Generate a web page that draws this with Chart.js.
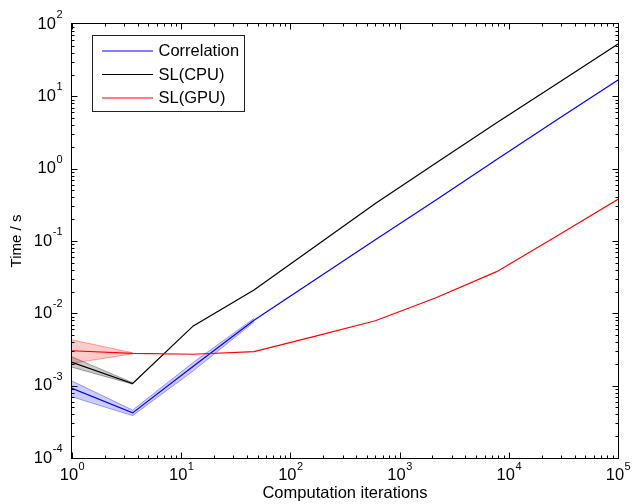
<!DOCTYPE html>
<html>
<head>
<meta charset="utf-8">
<script src="https://cdn.jsdelivr.net/npm/chart.js@4.4.0/dist/chart.umd.min.js"></script>
<style>
  html, body { margin: 0; padding: 0; background: #fff; }
  #chart { display: block; }
</style>
</head>
<body>
<canvas id="chart" width="633" height="504"></canvas>
<script>
// x positions (computation iterations)
const iterations = [1, 3.59, 12.9, 46.4, 166.8, 599.5, 2154, 7743, 27826, 100000];

// Correlation
const corrMean = [9.2e-4, 4.2e-4, 1.85e-3, 8.0e-3, 0.029, 0.104, 0.37, 1.34, 4.8, 16.8];
const corrLow  = [7.0e-4, 3.85e-4, 1.6e-3, 7.6e-3];
const corrHigh = [1.16e-3, 4.6e-4, 2.1e-3, 8.5e-3];

// SL(CPU)
const cpuMean = [2.1e-3, 1.07e-3, 6.7e-3, 0.021, 0.083, 0.33, 1.2, 4.3, 15, 53];
const cpuLow  = [1.8e-3, 1.05e-3];
const cpuHigh = [2.5e-3, 1.1e-3];

// SL(GPU)
const gpuMean = [3.04e-3, 2.8e-3, 2.72e-3, 2.95e-3, 4.8e-3, 7.9e-3, 0.0164, 0.0377, 0.118, 0.377];
const gpuLow  = [2.04e-3, 2.75e-3];
const gpuHigh = [4.3e-3, 2.85e-3];

// axis labels are 10^n
const xTickExps = [0, 1, 2, 3, 4, 5];
const yTickExps = [-4, -3, -2, -1, 0, 1, 2];

const FONT = '"Liberation Sans", Arial, Helvetica, sans-serif';

const pts = ys => ys.map((y, i) => ({ x: iterations[i], y }));

function band(ys, rgb, fill) {
  return {
    data: pts(ys),
    borderColor: `rgba(${rgb},0.35)`,
    backgroundColor: `rgba(${rgb},0.2)`,
    borderWidth: 1,
    pointRadius: 0,
    fill: fill,
    order: 10
  };
}

function line(label, ys, color, order) {
  return {
    label,
    data: pts(ys),
    borderColor: color,
    borderWidth: 1.2,
    pointRadius: 0,
    fill: false,
    order
  };
}

// frame, inward ticks, 10^n labels and the boxed legend
const axesPlugin = {
  id: 'axesPlugin',
  afterDraw(chart) {
    const { ctx, chartArea: a, scales: { x, y } } = chart;
    ctx.save();
    ctx.strokeStyle = '#000';
    ctx.lineWidth = 1;
    const L = Math.round(a.left) - 0.5, R = Math.round(a.right) + 0.5;
    const T = Math.round(a.top) - 0.5, B = Math.round(a.bottom) + 0.5;
    ctx.strokeRect(L, T, R - L, B - T);

    ctx.beginPath();
    for (let e = 0; e < 5; e++) {
      for (let m = 1; m <= 9; m++) {
        const px = Math.round(x.getPixelForValue(m * Math.pow(10, e))) + 0.5;
        const len = m === 1 ? 6 : 3;
        ctx.moveTo(px, B); ctx.lineTo(px, B - len);
        ctx.moveTo(px, T); ctx.lineTo(px, T + len);
      }
    }
    for (let e = -4; e < 2; e++) {
      for (let m = 1; m <= 9; m++) {
        const py = Math.round(y.getPixelForValue(m * Math.pow(10, e))) + 0.5;
        const len = m === 1 ? 6 : 3;
        ctx.moveTo(L, py); ctx.lineTo(L + len, py);
        ctx.moveTo(R, py); ctx.lineTo(R - len, py);
      }
    }
    ctx.stroke();

    ctx.fillStyle = '#000';
    ctx.textBaseline = 'middle';
    const base = `16.5px ${FONT}`, sup = `11px ${FONT}`;

    xTickExps.forEach(e => {
      const px = x.getPixelForValue(Math.pow(10, e));
      ctx.font = base; const w1 = ctx.measureText('10').width;
      ctx.font = sup; const w2 = ctx.measureText(String(e)).width;
      const x0 = px - (w1 + w2) / 2;
      ctx.textAlign = 'left';
      ctx.font = base; ctx.fillText('10', x0, 475);
      ctx.font = sup; ctx.fillText(String(e), x0 + w1 + 0.5, 467);
    });

    yTickExps.forEach(e => {
      const py = y.getPixelForValue(Math.pow(10, e));
      ctx.font = sup; const w2 = ctx.measureText(String(e)).width;
      ctx.textAlign = 'left';
      const xr = 62.5;
      ctx.fillText(String(e), xr - w2, py - 9);
      ctx.font = base; const w1 = ctx.measureText('10').width;
      ctx.fillText('10', xr - w2 - 0.5 - w1, py);
    });

    // legend
    ctx.fillStyle = '#fff';
    ctx.fillRect(92.5, 35.5, 152, 76);
    ctx.strokeStyle = '#222';
    ctx.strokeRect(92.5, 35.5, 152, 76);
    const rows = [51, 74.5, 98];
    const entries = chart.data.datasets.filter(d => d.label);
    const legendOrder = ['Correlation', 'SL(CPU)', 'SL(GPU)'];
    legendOrder.forEach((name, i) => {
      const d = entries.find(ds => ds.label === name);
      ctx.strokeStyle = d.borderColor;
      ctx.lineWidth = 1;
      ctx.beginPath();
      ctx.moveTo(102, rows[i]); ctx.lineTo(153, rows[i]);
      ctx.stroke();
      ctx.fillStyle = '#000';
      ctx.font = `16.5px ${FONT}`;
      ctx.textAlign = 'left';
      ctx.fillText(d.label, 158.5, rows[i] + 0.5);
    });
    ctx.restore();
  }
};

new Chart(document.getElementById('chart'), {
  type: 'line',
  data: {
    datasets: [
      band(corrLow, '0,0,255', '+1'),
      band(corrHigh, '0,0,255', false),
      band(cpuLow, '0,0,0', '+1'),
      band(cpuHigh, '0,0,0', false),
      band(gpuLow, '255,0,0', '+1'),
      band(gpuHigh, '255,0,0', false),
      line('Correlation', corrMean, '#0000ff', 2),
      line('SL(CPU)', cpuMean, '#000000', 1),
      line('SL(GPU)', gpuMean, '#ff0000', 0)
    ]
  },
  options: {
    responsive: false,
    animation: false,
    events: [],
    layout: { padding: { top: 24, right: 15, left: 0, bottom: 0 } },
    plugins: { legend: { display: false }, tooltip: { enabled: false } },
    elements: { line: { tension: 0 } },
    scales: {
      x: {
        type: 'logarithmic', min: 1, max: 1e5,
        grid: { display: false }, border: { display: false },
        ticks: { display: false },
        title: { display: true, text: 'Computation iterations', color: '#000',
                 font: { family: FONT, size: 16.5 }, padding: { top: 0, bottom: 1 } },
        afterFit: s => { s.height = 46; }
      },
      y: {
        type: 'logarithmic', min: 1e-4, max: 1e2,
        grid: { display: false }, border: { display: false },
        ticks: { display: false },
        title: { display: true, text: 'Time / s', color: '#000',
                 font: { family: FONT, size: 15 }, padding: { top: 8, bottom: 0 } },
        afterFit: s => { s.width = 72; }
      }
    }
  },
  plugins: [axesPlugin]
});
</script>
</body>
</html>
